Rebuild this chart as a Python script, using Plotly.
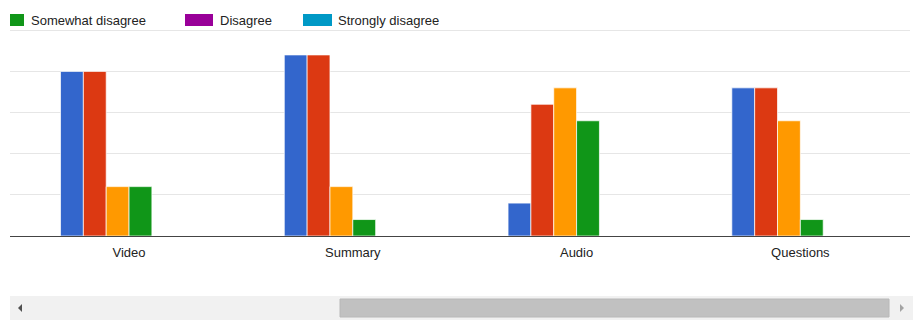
import plotly.graph_objects as go

categories = ["Video", "Summary", "Audio", "Questions"]
series_names = ["Strongly agree", "Agree", "Somewhat agree",
                "Somewhat disagree", "Disagree", "Strongly disagree"]
strongly_agree = [20, 22, 4, 18]
agree = [20, 22, 16, 18]
somewhat_agree = [6, 6, 18, 14]
somewhat_disagree = [6, 2, 14, 2]
disagree = [0, 0, 0, 0]
strongly_disagree = [0, 0, 0, 0]
series_values = [strongly_agree, agree, somewhat_agree,
                 somewhat_disagree, disagree, strongly_disagree]
colors = ["#3366cc", "#dc3912", "#ff9900", "#109618", "#990099", "#0099c6"]
legend_visible = ["Somewhat disagree", "Disagree", "Strongly disagree"]

W, H = 913, 320
ML, MR, MT, MB = 10, 3, 29, 84
PW, PH = W - ML - MR, H - MT - MB


def px(x):
    return (x - ML) / PW


def py(y):
    return 1 - (y - MT) / PH


FONT = "Arial, 'Liberation Sans', sans-serif"

fig = go.Figure()
for name, vals, col in zip(series_names, series_values, colors):
    fig.add_trace(go.Bar(
        x=categories, y=vals, name=name, marker_color=col,
        marker_line=dict(color="rgba(255,255,255,0.7)", width=1),
        showlegend=False, hoverinfo="skip",
    ))

shapes = []
annotations = []
# manual (scrolled) legend
leg_rects = [(5, 24), (185, 213), (303, 332)]
leg_text_x = [29, 218, 336]
for name, (x0, x1), tx in zip(legend_visible, leg_rects, leg_text_x):
    col = colors[series_names.index(name)]
    shapes.append(dict(type="rect", xref="paper", yref="paper",
                       x0=px(max(x0, 10)), x1=px(x1), y0=py(26), y1=py(14),
                       fillcolor=col, line=dict(width=0), layer="above"))
    annotations.append(dict(text=name, xref="paper", yref="paper",
                            x=px(tx), y=py(20), xanchor="left", yanchor="middle",
                            showarrow=False, font=dict(family=FONT, size=13, color="#222222")))

# scrollbar
shapes.append(dict(type="rect", xref="paper", yref="paper",
                   x0=px(10), x1=px(913), y0=py(320), y1=py(296),
                   fillcolor="#f1f1f1", line=dict(width=0)))
shapes.append(dict(type="rect", xref="paper", yref="paper",
                   x0=px(340), x1=px(889), y0=py(317), y1=py(299),
                   fillcolor="#c1c1c1", line=dict(color="#b8b8b8", width=1)))


def tri(points, color):
    path = "M " + " L ".join(f"{px(x)},{py(y)}" for x, y in points) + " Z"
    return dict(type="path", xref="paper", yref="paper", path=path,
                fillcolor=color, line=dict(width=0))


shapes.append(tri([(22, 304), (22, 312), (18, 308)], "#505050"))
shapes.append(tri([(900, 304), (900, 312), (904, 308)], "#a3a3a3"))

fig.update_layout(
    width=W, height=H,
    margin=dict(l=ML, r=MR, t=MT, b=MB, pad=0),
    paper_bgcolor="white", plot_bgcolor="white",
    barmode="group", bargap=0.3875, bargroupgap=0,
    font=dict(family=FONT, size=13, color="#222222"),
    xaxis=dict(range=[-0.532, 3.49], showgrid=False, showline=True,
               linecolor="#444444", linewidth=1, ticks="outside", ticklen=4,
               tickcolor="rgba(0,0,0,0)", tickfont=dict(size=13, color="#222222"),
               fixedrange=True),
    yaxis=dict(range=[0, 25.15], dtick=5, showticklabels=False, showgrid=True,
               gridcolor="#e6e6e6", gridwidth=1, zeroline=False, showline=False,
               fixedrange=True),
    shapes=shapes, annotations=annotations,
    showlegend=False, hovermode=False,
)

fig.write_html("out.html", config={"displayModeBar": False},
               post_script="document.body.style.margin='0';")
